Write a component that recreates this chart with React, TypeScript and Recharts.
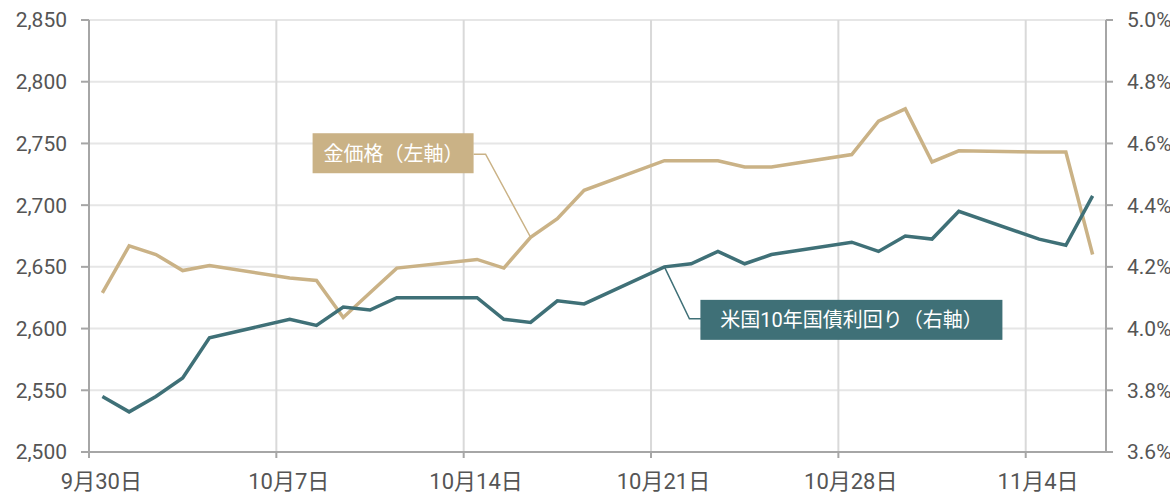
import { LineChart, Line, XAxis, YAxis, CartesianGrid, ReferenceDot } from 'recharts';

// trading days, Sep 30 – Nov 6 (2024)
const dates = [
  '9/30', '10/1', '10/2', '10/3', '10/4',
  '10/7', '10/8', '10/9', '10/10', '10/11',
  '10/14', '10/15', '10/16', '10/17', '10/18',
  '10/21', '10/22', '10/23', '10/24', '10/25',
  '10/28', '10/29', '10/30', '10/31', '11/1',
  '11/4', '11/5', '11/6',
];
// gold price, USD/oz (left axis)
const gold = [
  2629, 2667, 2660, 2647, 2651,
  2641, 2639, 2609, 2629, 2649,
  2656, 2649, 2674, 2689, 2712,
  2736, 2736, 2736, 2731, 2731,
  2741, 2768, 2778, 2735, 2744,
  2743, 2743, 2660,
];
// US 10y treasury yield, % (right axis)
const ust10y = [
  3.78, 3.73, 3.78, 3.84, 3.97,
  4.03, 4.01, 4.07, 4.06, 4.10,
  4.10, 4.03, 4.02, 4.09, 4.08,
  4.20, 4.21, 4.25, 4.21, 4.24,
  4.28, 4.25, 4.30, 4.29, 4.38,
  4.29, 4.27, 4.43,
];
const xTicks = ['9/30', '10/7', '10/14', '10/21', '10/28', '11/4'];
const goldTicks = [2500, 2550, 2600, 2650, 2700, 2750, 2800, 2850];
const yieldTicks = [3.6, 3.8, 4.0, 4.2, 4.4, 4.6, 4.8, 5.0];

const GOLD = '#CAB286';
const TEAL = '#3F7077';
const AXIS = '#a6a6a6';
const TEXT = '#555';
const FONT = "Roboto, 'Noto Sans CJK JP', sans-serif";

const W = 1170;
const H = 493;
const LEFT_W = 89;
const RIGHT_W = 64;
const SPAN = 38; // days on the axis
const HALF_DAY = (W - LEFT_W - RIGHT_W) / SPAN / 2;

const BASE = Date.UTC(2024, 8, 30);
const DAY = 86400000;
const dayOf = (md: string) => {
  const [m, d] = md.split('/').map(Number);
  return (Date.UTC(2024, m - 1, d) - BASE) / DAY;
};

// each day's value sits in the middle of its day slot
const data = dates.map((md, i) => ({ x: dayOf(md) + 0.5, gold: gold[i], ust: ust10y[i] }));

const DateTick = ({ x, y, payload }: any) => {
  const dt = new Date(BASE + payload.value * DAY);
  return (
    <text x={x + HALF_DAY - 1} y={y + 29} textAnchor="middle" fill={TEXT} fontSize={22} fontFamily={FONT}>
      {`${dt.getUTCMonth() + 1}月${dt.getUTCDate()}日`}
    </text>
  );
};

const GoldNote = ({ cx, cy }: any) => {
  const ex = cx - 45, ey = cy - 83;
  return (
    <g>
      <polyline points={`${cx},${cy} ${ex},${ey} ${ex - 12},${ey}`} fill="none" stroke={GOLD} strokeWidth={1.5} />
      <rect x={ex - 173} y={ey - 21} width={161} height={40} fill={GOLD} />
      <text x={ex - 92} y={ey + 7} textAnchor="middle" fill="#fff" fontSize={20} fontFamily={FONT}>
        金価格（左軸）
      </text>
    </g>
  );
};

const YieldNote = ({ cx, cy }: any) => {
  const ex = cx + 25, ey = cy + 52;
  return (
    <g>
      <polyline points={`${cx},${cy} ${ex},${ey} ${ex + 12},${ey}`} fill="none" stroke={TEAL} strokeWidth={1.5} />
      <rect x={ex + 11} y={ey - 19} width={302} height={40} fill={TEAL} />
      <text x={ex + 162} y={ey + 8} textAnchor="middle" fill="#fff" fontSize={20} fontFamily={FONT}>
        米国10年国債利回り（右軸）
      </text>
    </g>
  );
};

const goldNoteAt = data[dates.indexOf('10/16')];
const ustNoteAt = data[dates.indexOf('10/21')];

export default function App() {
  return (
    <div style={{ position: 'absolute', left: 0, top: 0, background: '#fff' }}>
      <LineChart width={W} height={H} data={data} margin={{ top: 20, right: 0, bottom: 0, left: 0 }}>
        <CartesianGrid yAxisId="l" vertical={false} stroke="#e6e6e6" strokeWidth={2} />
        <CartesianGrid yAxisId="l" horizontal={false} stroke="#d9d9d9" strokeWidth={2} />
        <XAxis
          type="number"
          dataKey="x"
          domain={[0, SPAN]}
          ticks={xTicks.map(dayOf)}
          tick={<DateTick />}
          height={41}
          tickSize={6}
          axisLine={{ stroke: AXIS, strokeWidth: 2 }}
          tickLine={{ stroke: AXIS, strokeWidth: 2 }}
        />
        <YAxis
          yAxisId="l"
          domain={[2500, 2850]}
          ticks={goldTicks}
          tickFormatter={(v: number) => v.toLocaleString('en-US')}
          width={LEFT_W}
          tickSize={8}
          tickMargin={14}
          tick={{ fill: TEXT, fontSize: 21, fontFamily: FONT }}
          axisLine={{ stroke: AXIS, strokeWidth: 2 }}
          tickLine={{ stroke: AXIS, strokeWidth: 2 }}
        />
        <YAxis
          yAxisId="r"
          orientation="right"
          domain={[3.6, 5.0]}
          ticks={yieldTicks}
          tickFormatter={(v: number) => `${v.toFixed(1)}%`}
          width={RIGHT_W}
          tickSize={7}
          tickMargin={14}
          tick={{ fill: TEXT, fontSize: 21, fontFamily: FONT, textAnchor: 'start' }}
          axisLine={{ stroke: AXIS, strokeWidth: 2 }}
          tickLine={{ stroke: AXIS, strokeWidth: 2 }}
        />
        <Line yAxisId="l" type="linear" dataKey="gold" stroke={GOLD} strokeWidth={3.5} dot={false} isAnimationActive={false} />
        <Line yAxisId="r" type="linear" dataKey="ust" stroke={TEAL} strokeWidth={3.5} dot={false} isAnimationActive={false} />
        <ReferenceDot yAxisId="l" x={goldNoteAt.x} y={goldNoteAt.gold} shape={<GoldNote />} />
        <ReferenceDot yAxisId="r" x={ustNoteAt.x} y={ustNoteAt.ust} shape={<YieldNote />} />
      </LineChart>
    </div>
  );
}
